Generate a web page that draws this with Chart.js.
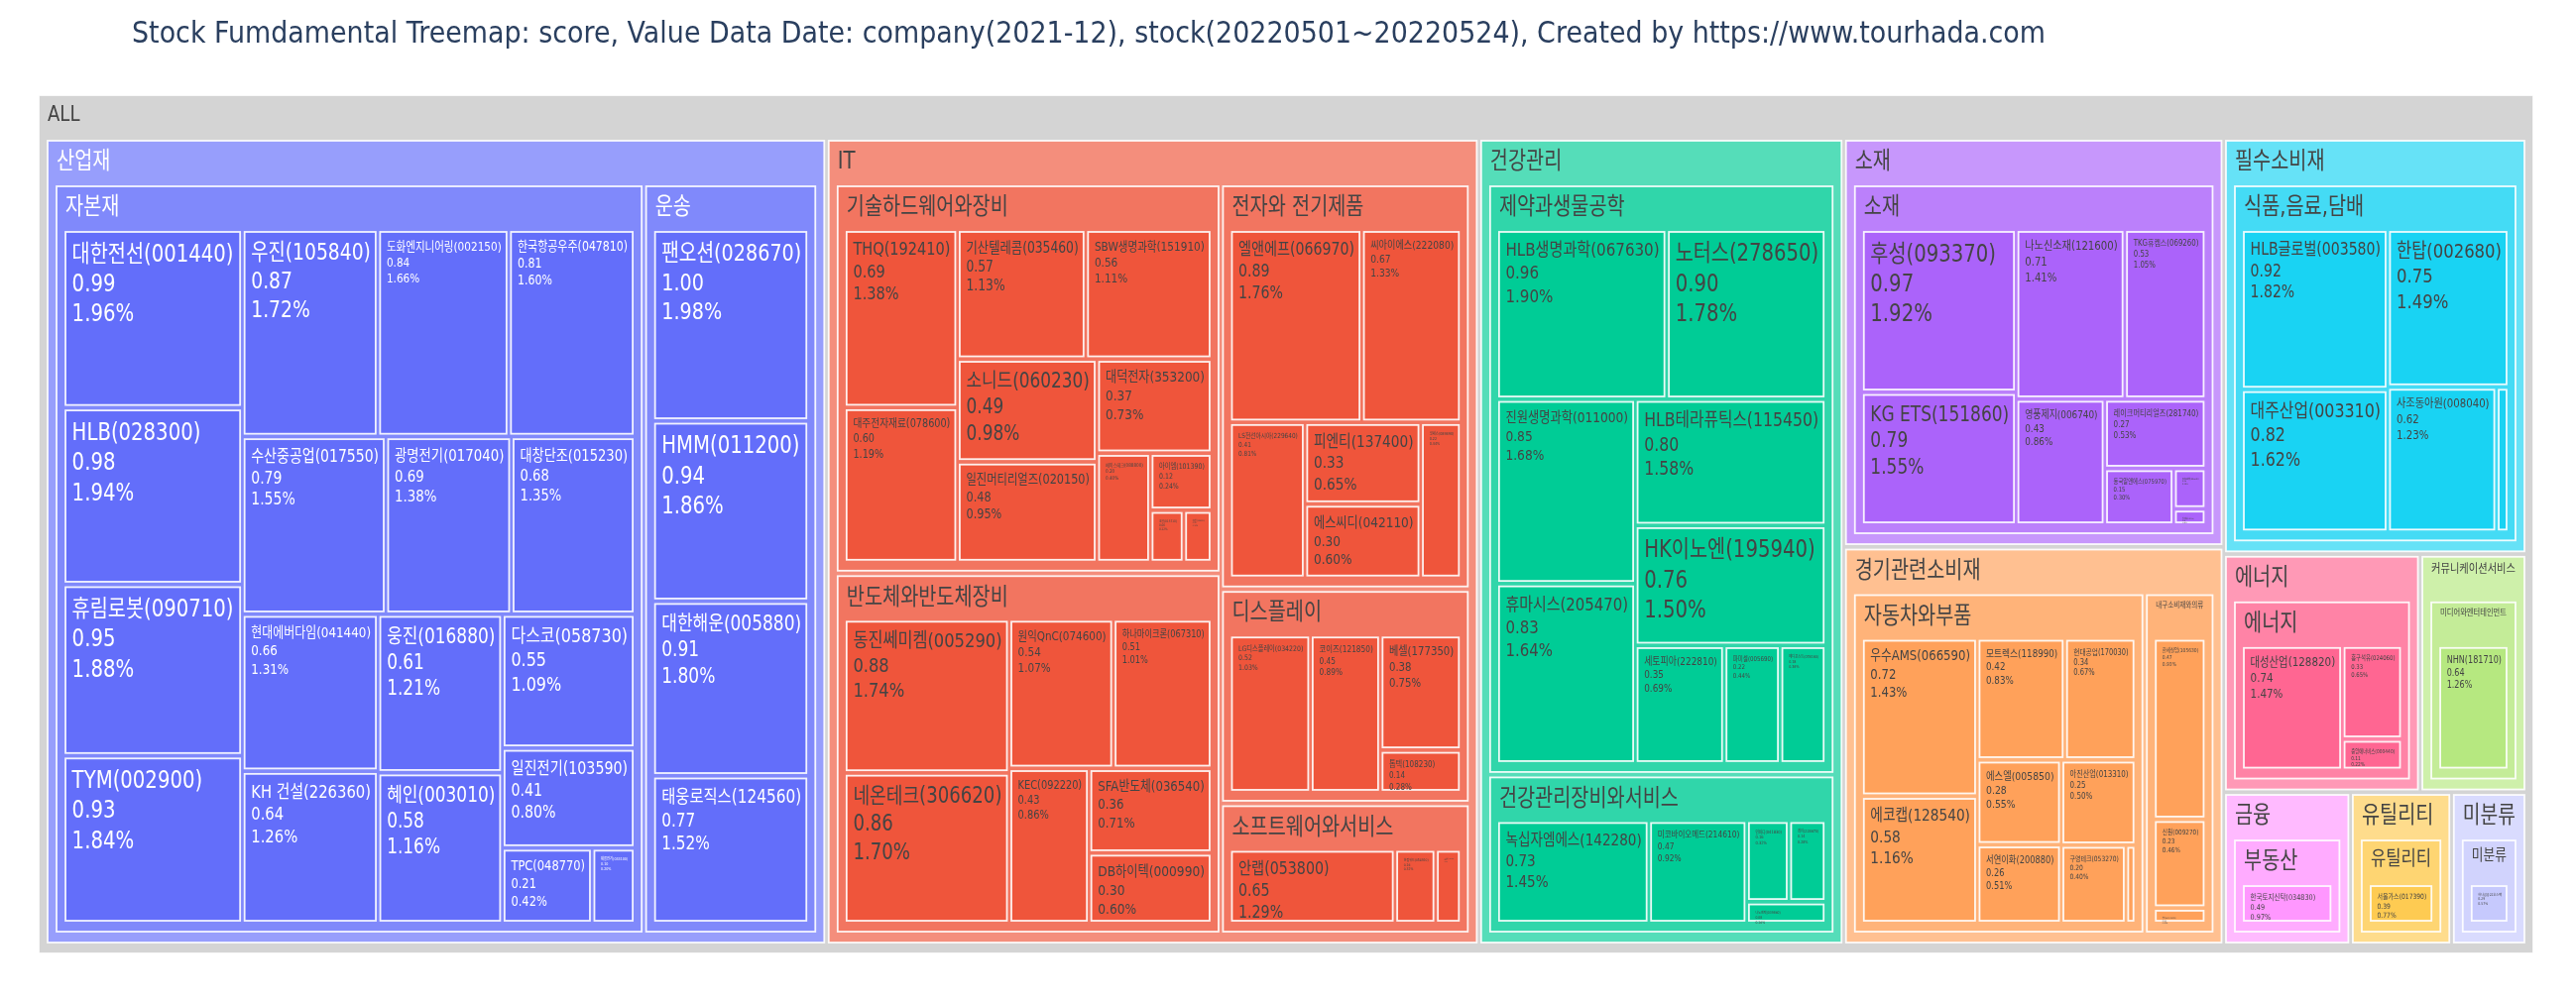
<!DOCTYPE html>
<html>
<head>
<meta charset="utf-8">
<script src="https://cdn.jsdelivr.net/npm/chart.js@4.4.1/dist/chart.umd.min.js"></script>
<style>
  html, body { margin: 0; padding: 0; background: #fff; }
  #wrap { width: 2598px; height: 1010px; position: relative; }
</style>
</head>
<body>
<div id="wrap"><canvas id="tree"></canvas></div>
<script>
// ---- data ----
const chartTitle = 'Stock Fumdamental Treemap: score, Value Data Date: company(2021-12), stock(20220501~20220524), Created by https://www.tourhada.com';
const rootLabel = 'ALL';

const sectors = ['산업재', 'IT', '건강관리', '소재', '경기관련소비재', '필수소비재',
                 '에너지', '커뮤니케이션서비스', '금융', '유틸리티', '미분류'];

const industries = ['자본재', '운송', '기술하드웨어와장비', '전자와 전기제품', '반도체와반도체장비',
                    '디스플레이', '소프트웨어와서비스', '제약과생물공학', '건강관리장비와서비스', '소재',
                    '자동차와부품', '내구소비재와의류', '식품,음료,담배', '에너지', '미디어와엔터테인먼트',
                    '부동산', '유틸리티', '미분류'];
const industrySector = [0, 0, 1, 1, 1, 1, 1, 2, 2, 3, 4, 4, 5, 6, 7, 8, 9, 10];

const stocks = [
  '대한전선(001440)', 'HLB(028300)', '휴림로봇(090710)', 'TYM(002900)', '우진(105840)', '도화엔지니어링(002150)',
  '한국항공우주(047810)', '수산중공업(017550)', '광명전기(017040)', '대창단조(015230)', '현대에버다임(041440)',
  'KH 건설(226360)', '웅진(016880)', '혜인(003010)', '다스코(058730)', '일진전기(103590)', 'TPC(048770)', '제룡전기(033100)',
  '팬오션(028670)', 'HMM(011200)', '대한해운(005880)', '태웅로직스(124560)',
  'THQ(192410)', '대주전자재료(078600)', '기산텔레콤(035460)', 'SBW생명과학(151910)', '소니드(060230)',
  '일진머티리얼즈(020150)', '대덕전자(353200)', '에이스테크(088800)', '아이엠(101390)', '코콤(015710)', '이랜텍(054210)',
  '엘앤에프(066970)', '씨아이에스(222080)', 'LS전선아시아(229640)', '피엔티(137400)', '에스씨디(042110)', '코세스(089890)',
  '동진쎄미켐(005290)', '네온테크(306620)', '원익QnC(074600)', '하나마이크론(067310)', 'KEC(092220)', 'SFA반도체(036540)', 'DB하이텍(000990)',
  'LG디스플레이(034220)', '코이즈(121850)', '베셀(177350)', '톱텍(108230)',
  '안랩(053800)', '한컴위드(054920)', '오픈베이스(049480)',
  'HLB생명과학(067630)', '노터스(278650)', '진원생명과학(011000)', '휴마시스(205470)', 'HLB테라퓨틱스(115450)',
  'HK이노엔(195940)', '세토피아(222810)', '파미셀(005690)', '메디포스트(078160)',
  '녹십자엠에스(142280)', '미코바이오메드(214610)', '인바디(041830)', '레이(228670)', '나노엔텍(039860)',
  '후성(093370)', 'KG ETS(151860)', '나노신소재(121600)', 'TKG휴켐스(069260)', '영풍제지(006740)',
  '레이크머티리얼즈(281740)', '동국알앤에스(075970)', '코스모화학(005420)', '한농화성(011500)',
  '우수AMS(066590)', '에코캡(128540)', '모트렉스(118990)', '현대공업(170030)', '에스엘(005850)',
  '서연이화(200880)', '아진산업(013310)', '구영테크(053270)', '세원정공(021820)',
  '한세실업(105630)', '신원(009270)', '형지I&C(011080)',
  'HLB글로벌(003580)', '대주산업(003310)', '한탑(002680)', '사조동아원(008040)', 'CJ씨푸드(011150)',
  '대성산업(128820)', '흥구석유(024060)', '중앙에너비스(000440)',
  'NHN(181710)',
  '한국토지신탁(034830)',
  '서울가스(017390)',
  '하나금융22호스팩'
];
const stockIndustry = [
  0, 0, 0, 0, 0, 0, 0, 0, 0, 0, 0, 0, 0, 0, 0, 0, 0, 0,
  1, 1, 1, 1,
  2, 2, 2, 2, 2, 2, 2, 2, 2, 2, 2,
  3, 3, 3, 3, 3, 3,
  4, 4, 4, 4, 4, 4, 4,
  5, 5, 5, 5,
  6, 6, 6,
  7, 7, 7, 7, 7, 7, 7, 7, 7,
  8, 8, 8, 8, 8,
  9, 9, 9, 9, 9, 9, 9, 9, 9,
  10, 10, 10, 10, 10, 10, 10, 10, 10,
  11, 11, 11,
  12, 12, 12, 12, 12,
  13, 13, 13,
  14,
  15,
  16,
  17
];
const scores = [
  0.99, 0.98, 0.95, 0.93, 0.87, 0.84, 0.81, 0.79, 0.69, 0.68, 0.66, 0.64, 0.61, 0.58, 0.55, 0.41, 0.21, 0.10,
  1.00, 0.94, 0.91, 0.77,
  0.69, 0.60, 0.57, 0.56, 0.49, 0.48, 0.37, 0.20, 0.12, 0.06, 0.05,
  0.89, 0.67, 0.41, 0.33, 0.30, 0.22,
  0.88, 0.86, 0.54, 0.51, 0.43, 0.36, 0.30,
  0.52, 0.45, 0.38, 0.14,
  0.65, 0.16, 0.10,
  0.96, 0.90, 0.85, 0.83, 0.80, 0.76, 0.35, 0.22, 0.18,
  0.73, 0.47, 0.16, 0.14, 0.08,
  0.97, 0.79, 0.71, 0.53, 0.43, 0.27, 0.15, 0.05, 0.02,
  0.72, 0.58, 0.42, 0.34, 0.28, 0.26, 0.25, 0.20, 0.03,
  0.47, 0.23, 0.04,
  0.92, 0.82, 0.75, 0.62, 0.07,
  0.74, 0.33, 0.11,
  0.64,
  0.49,
  0.39,
  0.29
];
// shares (%) as printed; null where the label is too small to read
const shares = [
  1.96, 1.94, 1.88, 1.84, 1.72, 1.66, 1.60, 1.55, 1.38, 1.35, 1.31, 1.26, 1.21, 1.16, 1.09, 0.80, 0.42, null,
  1.98, 1.86, 1.80, 1.52,
  1.38, 1.19, 1.13, 1.11, 0.98, 0.95, 0.73, null, 0.24, null, null,
  1.76, 1.33, null, 0.65, 0.60, null,
  1.74, 1.70, 1.07, 1.01, 0.86, 0.71, 0.60,
  1.03, 0.89, 0.75, null,
  1.29, null, null,
  1.90, 1.78, 1.68, 1.64, 1.58, 1.50, 0.69, 0.44, 0.36,
  1.45, 0.92, null, null, null,
  1.92, 1.55, 1.41, 1.05, 0.86, 0.53, 0.30, null, null,
  1.43, 1.16, 0.83, 0.67, 0.55, 0.51, 0.50, 0.40, null,
  0.93, null, null,
  1.82, 1.62, 1.49, 1.23, null,
  1.47, null, null,
  1.26,
  null,
  0.77,
  null
];

// ---- style ----
const sectorColors = ['#636efa', '#EF553B', '#00cc96', '#ab63fa', '#FFA15A', '#19d3f3',
                      '#FF6692', '#B6E880', '#FF97FF', '#FECB52', '#c6c9fd'];
const rootColor = '#d4d4d4';
const FONT = '"DejaVu Sans", "Noto Sans CJK KR", sans-serif';
const SQUEEZE = 0.82;           // horizontal squeeze of the original figure
const AREA_W = 2516, AREA_H = 866;
const COMP_W = AREA_W / SQUEEZE, COMP_H = AREA_H;
const PAD = { t: 46, l: 11, r: 11, b: 11, inner: 5.5 };
const RATIO = 1;

// ---- hierarchy ----
const root = { label: rootLabel, depth: 0, sector: -1, children: [] };
sectors.forEach((s, i) => root.children.push({ label: s, depth: 1, sector: i, children: [] }));
const indNodes = industries.map((name, j) => {
  const node = { label: name, depth: 2, sector: industrySector[j], children: [] };
  root.children[industrySector[j]].children.push(node);
  return node;
});
stocks.forEach((name, k) => {
  const ind = indNodes[stockIndustry[k]];
  ind.children.push({ label: name, depth: 3, sector: ind.sector, value: scores[k], share: shares[k] });
});
function sumUp(n) {
  if (n.children) {
    n.value = n.children.reduce((a, c) => a + sumUp(c), 0);
    n.children.sort((a, b) => b.value - a.value);
  }
  return n.value;
}
const total = sumUp(root);

// ---- squarified tiling ----
function dice(row, x0, y0, x1, y1) {
  const k = row.value && (x1 - x0) / row.value;
  row.children.forEach(n => { n.y0 = y0; n.y1 = y1; n.x0 = x0; n.x1 = x0 += n.value * k; });
}
function slice(row, x0, y0, x1, y1) {
  const k = row.value && (y1 - y0) / row.value;
  row.children.forEach(n => { n.x0 = x0; n.x1 = x1; n.y0 = y0; n.y1 = y0 += n.value * k; });
}
function squarify(parent, x0, y0, x1, y1) {
  const nodes = parent.children, n = nodes.length;
  let i0 = 0, i1 = 0, value = parent.value;
  while (i0 < n) {
    const dx = x1 - x0, dy = y1 - y0;
    let sumValue;
    do sumValue = nodes[i1++].value; while (!sumValue && i1 < n);
    let minValue = sumValue, maxValue = sumValue;
    const alpha = Math.max(dy / dx, dx / dy) / (value * RATIO);
    let beta = sumValue * sumValue * alpha;
    let minRatio = Math.max(maxValue / beta, beta / minValue);
    for (; i1 < n; ++i1) {
      const nv = nodes[i1].value;
      sumValue += nv;
      if (nv < minValue) minValue = nv;
      if (nv > maxValue) maxValue = nv;
      beta = sumValue * sumValue * alpha;
      const newRatio = Math.max(maxValue / beta, beta / minValue);
      if (newRatio > minRatio) { sumValue -= nv; break; }
      minRatio = newRatio;
    }
    const row = { value: sumValue, children: nodes.slice(i0, i1) };
    if (dx < dy) dice(row, x0, y0, x1, dy ? y0 += dy * sumValue / value : y1);
    else slice(row, x0, y0, dx ? x0 += dx * sumValue / value : x1, y1);
    value -= sumValue;
    i0 = i1;
  }
}
const allNodes = [];
function position(node, p) {
  let x0 = node.x0 + p, y0 = node.y0 + p, x1 = node.x1 - p, y1 = node.y1 - p;
  if (x1 < x0) x0 = x1 = (x0 + x1) / 2;
  if (y1 < y0) y0 = y1 = (y0 + y1) / 2;
  node.x0 = x0; node.y0 = y0; node.x1 = x1; node.y1 = y1;
  allNodes.push(node);
  if (node.children) {
    const q = PAD.inner / 2;
    x0 += PAD.l - q; y0 += PAD.t - q; x1 -= PAD.r - q; y1 -= PAD.b - q;
    if (x1 < x0) x0 = x1 = (x0 + x1) / 2;
    if (y1 < y0) y0 = y1 = (y0 + y1) / 2;
    squarify(node, x0, y0, x1, y1);
    node.children.forEach(c => position(c, q));
  }
}
root.x0 = 0; root.y0 = 0; root.x1 = COMP_W; root.y1 = COMP_H;
position(root, 0);

// ---- colours ----
function rgb(hex) {
  const h = hex.replace('#', '');
  return [0, 2, 4].map(i => parseInt(h.substr(i, 2), 16));
}
function fade(hex, t) {
  const c = rgb(hex).map(v => Math.round(v + (255 - v) * t));
  return `rgb(${c[0]},${c[1]},${c[2]})`;
}
function isDark(hex) {
  const c = rgb(hex);
  return (c[0] * 299 + c[1] * 587 + c[2] * 114) / 1000 < 128;
}
const fadeByDepth = [0, 0.3333, 0.1875, 0];
allNodes.forEach(n => {
  if (n.depth === 0) { n.fill = rootColor; n.ink = '#444'; return; }
  const base = sectorColors[n.sector];
  n.fill = fade(base, fadeByDepth[n.depth]);
  n.ink = isDark(base) ? '#fff' : '#444';
});

// ---- drawing plugin ----
const treemapPlugin = {
  id: 'treemapCells',
  afterDatasetsDraw(chart) {
    const ctx = chart.ctx, xs = chart.scales.x, ys = chart.scales.y;
    const px = v => xs.getPixelForValue(v), py = v => ys.getPixelForValue(v);
    const kx = Math.abs(px(1) - px(0)) / Math.abs(py(1) - py(0));
    const widest = (lines, fs) => {
      ctx.font = `${fs}px ${FONT}`;
      return Math.max(...lines.map(t => ctx.measureText(t).width));
    };
    const text = (lines, xc, yc, fs, color) => {
      ctx.save();
      ctx.translate(px(xc), py(yc));
      ctx.scale(kx, 1);
      ctx.font = `${fs}px ${FONT}`;
      ctx.fillStyle = color;
      ctx.textAlign = 'left';
      ctx.textBaseline = 'middle';
      lines.forEach((t, i) => ctx.fillText(t, 0, i * fs * 1.27));
      ctx.restore();
    };
    ctx.save();
    allNodes.forEach(n => {
      const X0 = px(n.x0), X1 = px(n.x1), Y0 = py(n.y0), Y1 = py(n.y1);
      ctx.fillStyle = n.fill;
      ctx.fillRect(X0, Y0, X1 - X0, Y1 - Y0);
      ctx.strokeStyle = 'rgba(255,255,255,0.9)';
      ctx.lineWidth = 1.8;
      ctx.strokeRect(X0, Y0, X1 - X0, Y1 - Y0);
      const w = n.x1 - n.x0, h = n.y1 - n.y0;
      if (n.children) {
        const base = n.depth === 0 ? 22 : 24;
        const tw = widest([n.label], base);
        const fs = Math.min(base, base * (w - 22) / tw);
        if (fs > 1.5) text([n.label], n.x0 + 11, n.y0 + 4 + fs * 0.75, fs, n.ink);
      } else {
        const pct = n.share != null ? n.share : n.value / total * 100;
        const lines = [n.label, n.value.toFixed(2), pct.toFixed(2) + '%'];
        const tw = widest(lines, 24);
        let fs = Math.min(24, 24 * (w - 14) / tw);
        const need = fs * (0.72 + 1.27 * 2 + 0.5) + 6;
        if (need > h) fs *= h / need;
        if (fs > 1.2) text(lines, n.x0 + 8, n.y0 + 6 + fs * 0.72, fs, n.ink);
      }
    });
    ctx.restore();
  },
  afterDraw(chart) {
    const ctx = chart.ctx;
    ctx.save();
    ctx.font = `30px ${FONT}`;
    const tw = ctx.measureText(chartTitle).width;
    ctx.translate(133, 35);
    ctx.scale(1930 / tw, 1);
    ctx.fillStyle = '#2a3f5f';
    ctx.textAlign = 'left';
    ctx.textBaseline = 'middle';
    ctx.fillText(chartTitle, 0, 0);
    ctx.restore();
  }
};

new Chart(document.getElementById('tree'), {
  type: 'scatter',
  data: { datasets: [{ data: [], pointRadius: 0 }] },
  options: {
    responsive: true,
    maintainAspectRatio: false,
    animation: false,
    events: [],
    layout: { padding: { left: 39, right: 2598 - 39 - AREA_W, top: 96, bottom: 1010 - 96 - AREA_H } },
    plugins: { legend: { display: false }, tooltip: { enabled: false }, title: { display: false } },
    scales: {
      x: { type: 'linear', display: false, min: 0, max: COMP_W },
      y: { type: 'linear', display: false, min: 0, max: COMP_H, reverse: true }
    }
  },
  plugins: [treemapPlugin]
});
</script>
</body>
</html>
